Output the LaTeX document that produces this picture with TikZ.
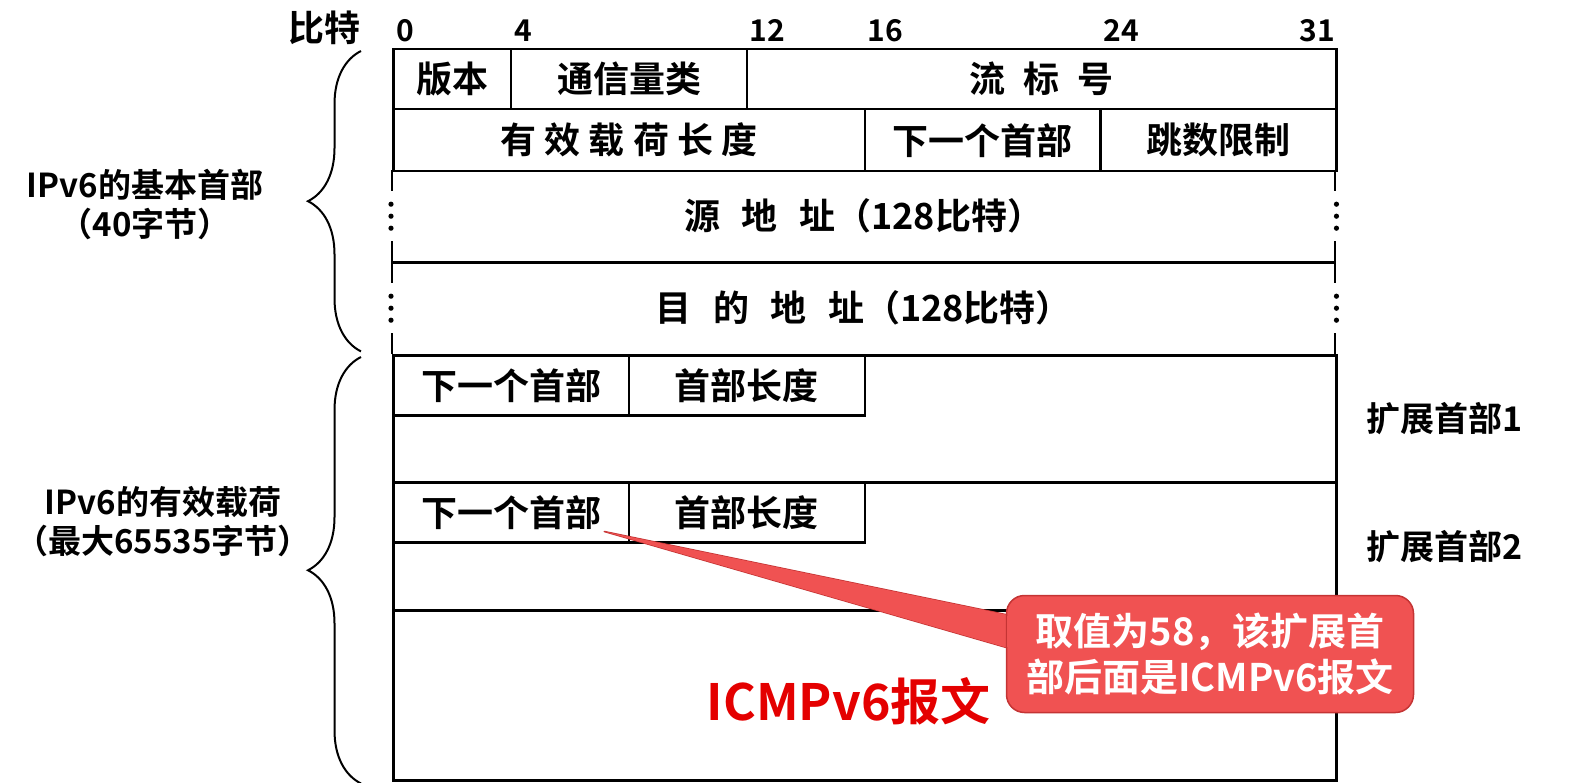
\documentclass[tikz,border=0pt]{standalone}
\usepackage{fontspec}
\setmainfont{Noto Sans CJK SC}[BoldFont={Noto Sans CJK SC Bold}]
\usepackage{xcolor}
\usepackage{tikz}
\usetikzlibrary{positioning,calc,decorations.pathreplacing}

\definecolor{notefill}{RGB}{240,82,82}
\definecolor{noteline}{RGB}{196,52,52}
\definecolor{icmpred}{RGB}{228,0,0}

\begin{document}
\begin{tikzpicture}[
  x=1pt, y=-1pt,
  font=\bfseries\fontsize{36}{40}\selectfont,
  field/.style 2 args={draw, line width=2.5pt, inner sep=0pt, anchor=north west,
                       minimum width=#1*29.47pt, minimum height=#2},
  addr/.style={inner sep=0pt, anchor=north west,
               minimum width=32*29.47pt, minimum height=92},
  bitno/.style={font=\bfseries\fontsize{30}{32}\selectfont, inner sep=0pt},
  side/.style={font=\bfseries\fontsize{33}{39}\selectfont, align=center, inner sep=0pt},
  extlbl/.style={font=\bfseries\fontsize{34}{38}\selectfont, inner sep=0pt},
  brc/.style={decorate, decoration={brace, amplitude=53pt}, line width=2pt},
  callout/.style={fill=notefill, draw=noteline, line width=1.5pt,
                  rounded corners=18pt, minimum width=407pt, minimum height=117pt,
                  text=white, align=center, inner sep=0pt,
                  font=\bfseries\fontsize{38}{46}\selectfont},
]
\useasboundingbox (0,0) rectangle (1594,783);

%% --- Header fields (x in bits) ---
\begin{scope}[shift={(392,48)}, x=29.47pt]
  \node[field={4}{60}]  (ver)  at (0,0)  {版本};
  \node[field={8}{60}]  (tc)   at (4,0)  {通信量类};
  \node[field={20}{60}] (flow) at (12,0) {流\hspace{.5em}标\hspace{.5em}号};

  \node[field={16}{62}] (plen) at (0,60)  {有 效 载 荷 长 度};
  \node[field={8}{62}]  (nxt)  at (16,60) {下一个首部};
  \node[field={8}{62}]  (hop)  at (24,60) {跳数限制};

  \node[addr] (src) at (0,122) {源\hspace{.6em}地\hspace{.6em}址（128比特）};
  \node[addr] (dst) at (0,214) {目\hspace{.6em}的\hspace{.6em}地\hspace{.6em}址（128比特）};

  %% --- Extension headers ---
  \node[field={32}{127}] (ext1) at (0,306) {};
  \node[field={8}{60}]   (nh1)  at (0,306) {下一个首部};
  \node[field={8}{60}]   (hl1)  at (8,306) {首部长度};

  \node[field={32}{128}] (ext2) at (0,433) {};
  \node[field={8}{60}]   (nh2)  at (0,433) {下一个首部};
  \node[field={8}{60}]   (hl2)  at (8,433) {首部长度};

  \node[field={32}{170}] (icmp) at (0,561) {};
\end{scope}
\node[text=icmpred, font=\bfseries\fontsize{50}{56}\selectfont]
     (icmptxt) at ($(icmp.center)+(-16,6)$) {ICMPv6报文};

%% --- Address rows: broken side lines ---
\draw[line width=3.5pt] (src.south west) -- (src.south east);
\foreach \r in {src,dst} {
  \draw[line width=2pt] (\r.north west) -- ($(\r.west)+(0,-25)$)
                        ($(\r.west)+(0,25)$) -- (\r.south west);
  \draw[line width=2pt] (\r.north east) -- ($(\r.east)+(0,-25)$)
                        ($(\r.east)+(0,25)$) -- (\r.south east);
  \foreach \d in {-12,0,12} {
    \fill ($(\r.west)+(-1,\d)$) circle (2.6pt);
    \fill ($(\r.east)+(1,\d)$) circle (2.6pt);
  }
}

%% --- Bit numbers ---
\node[bitno, anchor=base east] (bits) at ($(ver.north west)+(-31,-6)$)
     {\fontsize{36}{40}\selectfont 比特};
\foreach \n/\at/\dy in {0/ver/-6,4/tc/-6,12/flow/-6,16/nxt/-66,24/hop/-66}
  \node[bitno, anchor=base west] (b\n) at ($(\at.north west)+(4,\dy)$) {\n};
\node[bitno, anchor=base east] (b31) at ($(flow.north east)+(-2,-6)$) {31};

%% --- Braces and side labels ---
\draw[brc] ($(dst.south west)+(-31,-3)$) -- ($(ver.north west)+(-31,3)$);
\draw[brc] ($(icmp.south west)+(-31,2)$) -- ($(ext1.north west)+(-31,3)$);

\node[side] (basehdr) at (145,204) {IPv6的基本首部\\（40字节）};
\node[side] (payload) at (163,522) {IPv6的有效载荷\\（最大65535字节）};

\node[extlbl, right=29pt of ext1] (ext1lbl) {扩展首部1};
\node[extlbl, right=29pt of ext2] (ext2lbl) {扩展首部2};

%% --- Callout ---
\coordinate (tip) at ($(nh2.south east)+(-26,-12)$);
\coordinate (pa)  at (1008,615);
\coordinate (pb)  at (1008,648);
\draw[fill=notefill, draw=noteline, line width=1.5pt, line join=round]
     (pa) -- (tip) -- (pb);
\fill[notefill] (pa) -- (tip) -- (pb) -- cycle;
\node[callout] (note) at (1210,654) {取值为58，该扩展首\\部后面是ICMPv6报文};
\fill[notefill] ($(pa)+(-0.6,0.9)$) rectangle ($(pb)+(1.2,-0.9)$);

\end{tikzpicture}
\end{document}
